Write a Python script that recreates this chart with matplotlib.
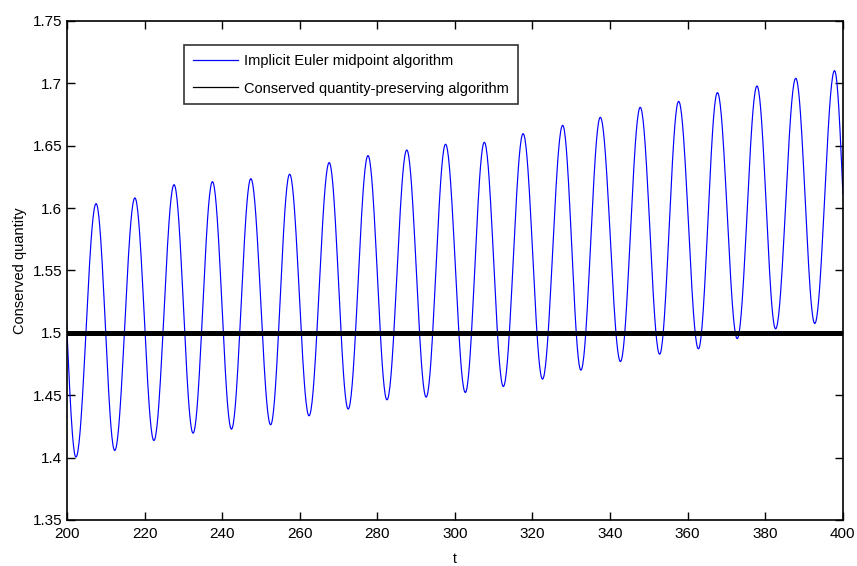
import numpy as np
import matplotlib
matplotlib.use("Agg")
import matplotlib.pyplot as plt
from matplotlib.lines import Line2D

# Local maxima of the implicit Euler midpoint solution (time, value)
peak_t = [197.7, 207.5, 217.5, 227.6, 237.5, 247.4, 257.4, 267.6, 277.6, 287.6,
          297.6, 307.6, 317.6, 327.8, 337.5, 347.8, 357.7, 367.7, 377.9, 387.9, 397.9]
peak_v = [1.600, 1.6036, 1.6082, 1.6188, 1.6212, 1.6236, 1.6272, 1.6365, 1.6421, 1.6466,
          1.6512, 1.6528, 1.6597, 1.6664, 1.6728, 1.6808, 1.6856, 1.6926, 1.6979, 1.7041, 1.7102]

# Local minima of the implicit Euler midpoint solution (time, value)
trough_t = [202.3, 212.3, 222.4, 232.5, 242.4, 252.5, 262.4, 272.5, 282.5, 292.6,
            302.7, 312.5, 322.6, 332.5, 342.7, 352.8, 362.8, 372.8, 382.7, 392.8, 402.2]
trough_v = [1.4004, 1.4057, 1.4137, 1.4196, 1.4228, 1.4263, 1.4335, 1.4389, 1.4463, 1.4485,
            1.4522, 1.4570, 1.4629, 1.4701, 1.4770, 1.4829, 1.4872, 1.4954, 1.5032, 1.5075, 1.513]

# Value kept exactly by the conserved quantity-preserving scheme
conserved_value = 1.5

x_ticks = [200, 220, 240, 260, 280, 300, 320, 340, 360, 380, 400]
y_ticks = [1.35, 1.4, 1.45, 1.5, 1.55, 1.6, 1.65, 1.7, 1.75]

# Join successive extrema with half-cosine arcs to trace the oscillation
ext_t = np.array(peak_t + trough_t)
ext_v = np.array(peak_v + trough_v)
order = np.argsort(ext_t)
ext_t, ext_v = ext_t[order], ext_v[order]
seg_t, seg_v = [], []
for i in range(len(ext_t) - 1):
    s = np.linspace(0.0, 1.0, 40, endpoint=False)
    w = (1 - np.cos(np.pi * s)) / 2
    seg_t.append(ext_t[i] + (ext_t[i + 1] - ext_t[i]) * s)
    seg_v.append(ext_v[i] + (ext_v[i + 1] - ext_v[i]) * w)
seg_t.append([ext_t[-1]])
seg_v.append([ext_v[-1]])
t_curve = np.concatenate(seg_t)
v_curve = np.concatenate(seg_v)

plt.rcParams["font.family"] = ["Liberation Sans", "DejaVu Sans"]

fig = plt.figure(figsize=(8.57, 5.66), dpi=100)
ax = fig.add_axes([0.0782, 0.0813, 0.9051, 0.8816])

ax.plot(t_curve, v_curve, color="#0000ff", linewidth=0.85)
ax.axhline(conserved_value, color="black", linewidth=3.6)

ax.set_xlim(200, 400)
ax.set_ylim(1.35, 1.75)
ax.set_xticks(x_ticks)
ax.set_yticks(y_ticks)
ax.set_xticklabels([str(v) for v in x_ticks])
ax.set_yticklabels([f"{v:g}" for v in y_ticks])
ax.tick_params(direction="in", length=6, width=1.0, top=True, right=True,
               labelsize=11)
ax.tick_params(axis="x", pad=5)
ax.tick_params(axis="y", pad=3.5)
for sp in ax.spines.values():
    sp.set_linewidth(1.2)
    sp.set_color("black")

ax.set_xlabel("t", fontsize=10, labelpad=8)
ax.set_ylabel("Conserved quantity", fontsize=10.5, labelpad=4)

handles = [Line2D([], [], color="#0000ff", linewidth=0.9),
           Line2D([], [], color="black", linewidth=0.9)]
leg = ax.legend(handles,
                ["Implicit Euler midpoint algorithm",
                 "Conserved quantity-preserving algorithm"],
                loc="upper left", bbox_to_anchor=(0.151, 0.952),
                borderaxespad=0, fontsize=10.5, frameon=True, fancybox=False,
                handlelength=3.1, handletextpad=0.4, borderpad=0.6,
                labelspacing=0.95)
leg.get_frame().set_edgecolor("black")
leg.get_frame().set_linewidth(1.2)

fig.savefig("out.png", dpi=100)
